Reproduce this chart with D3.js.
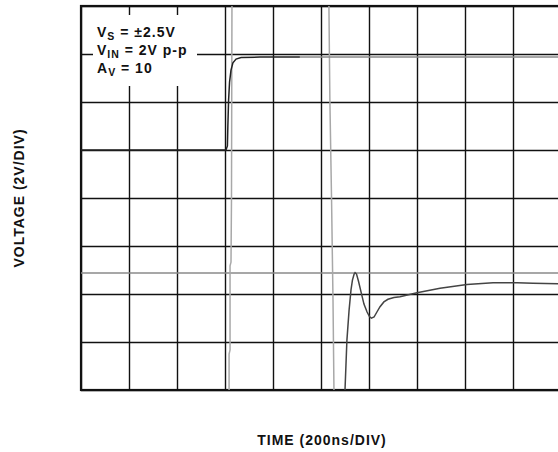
<!DOCTYPE html>
<html>
<head>
<meta charset="utf-8">
<script src="https://cdn.jsdelivr.net/npm/d3@7"></script>
<style>
  body { margin: 0; background: #fff; }
  svg { display: block; font-family: "Liberation Sans", Arial, sans-serif; font-weight: bold; }
  .grid line { stroke: #111; stroke-width: 1.4; }
  .grid .domain { display: none; }
</style>
</head>
<body>
<svg id="chart" width="558" height="452"></svg>
<script>
// time in ns (200ns/div), voltage in V (2V/div)
var timeTicks = [0, 200, 400, 600, 800, 1000, 1200, 1400, 1600, 1800, 2000]
var voltTicks = [-8, -6, -4, -2, 0, 2, 4, 6, 8]

// input step (dark part, then faint tail)
var inputTrace = [
  [0, 2.0], [604, 2.0], [610, 2.17], [612, 3.04], [615, 4.08], [619, 4.83],
  [625, 5.33], [633, 5.63], [646, 5.79], [667, 5.85], [746, 5.875], [912, 5.875]
]
var inputTail = [[912, 5.875], [2000, 5.875]]

// output: fast edges (faint) and the ringing/settling part
var outputEdge1 = [
  [629, 8.0], [627, -0.08], [625, -2.67], [621, -2.83], [621, -6.33], [617, -6.5], [617, -8.0]
]
var outputEdge2 = [
  [1033, 8.0], [1037, 4.08], [1044, -0.08], [1050, -4.25], [1054, -8.0]
]
var outputSettle = [
  [1100, -8.0], [1108, -5.92], [1117, -4.67], [1125, -3.83], [1131, -3.42], [1138, -3.17],
  [1142, -3.11], [1148, -3.17], [1156, -3.46], [1167, -3.92], [1179, -4.42], [1192, -4.75],
  [1202, -4.94], [1210, -5.01], [1221, -4.96], [1233, -4.75], [1246, -4.53], [1262, -4.33],
  [1279, -4.22], [1304, -4.15], [1329, -4.11], [1400, -3.95], [1496, -3.76], [1608, -3.6],
  [1717, -3.53], [1817, -3.53], [1883, -3.55], [2000, -3.58]
]
var refLevel = -3.125

var margin = { top: 6, left: 81 }
var width = 480, height = 384

var svg = d3.select("#chart")

var x = d3.scaleLinear().domain([0, 2000]).range([margin.left, margin.left + width])
var y = d3.scaleLinear().domain([-8, 8]).range([margin.top + height, margin.top])

svg.append("g")
    .attr("class", "grid")
    .attr("transform", "translate(0," + (margin.top + height) + ")")
    .call(d3.axisBottom(x).tickValues(timeTicks).tickSize(-height).tickFormat(""))

svg.append("g")
    .attr("class", "grid")
    .attr("transform", "translate(" + margin.left + ",0)")
    .call(d3.axisLeft(y).tickValues(voltTicks).tickSize(-width).tickFormat(""))

// heavier frame
svg.append("rect")
    .attr("x", x(0)).attr("y", y(8))
    .attr("width", x(2000) - x(0)).attr("height", y(-8) - y(8))
    .attr("fill", "none").attr("stroke", "#111").attr("stroke-width", 2.2)

var line = d3.line().x(d => x(d[0])).y(d => y(d[1]))

svg.append("line")
    .attr("x1", x(0)).attr("x2", x(2000))
    .attr("y1", y(refLevel)).attr("y2", y(refLevel))
    .attr("stroke", "#8a8a8a").attr("stroke-width", 1.6)

function trace(data, color, w) {
    svg.append("path")
        .datum(data)
        .attr("d", line)
        .attr("fill", "none")
        .attr("stroke", color)
        .attr("stroke-width", w)
}

trace(outputEdge1, "#a8a8a8", 1.5)
trace(outputEdge2, "#a8a8a8", 1.5)
trace(outputSettle, "#444", 1.5)
trace(inputTail, "#8a8a8a", 1.6)
trace(inputTrace, "#222", 1.5)

// annotation box
svg.append("rect")
    .attr("x", 93).attr("y", 15).attr("width", 104).attr("height", 71)
    .attr("fill", "#fff")

var notes = [["V", "S", " = \u00b12.5V"], ["V", "IN", " = 2V p-p"], ["A", "V", " = 10"]]
notes.forEach(function (n, i) {
    var t = svg.append("text")
        .attr("x", 97).attr("y", 37 + i * 18)
        .attr("font-size", 14).attr("letter-spacing", 1).attr("fill", "#111")
    t.append("tspan").text(n[0])
    t.append("tspan").attr("font-size", 10.5).attr("dy", 3).text(n[1])
    t.append("tspan").attr("dy", -3).text(n[2])
})

svg.append("text")
    .attr("x", 322).attr("y", 445)
    .attr("text-anchor", "middle")
    .attr("font-size", 14).attr("letter-spacing", 1).attr("fill", "#111")
    .text("TIME (200ns/DIV)")

svg.append("text")
    .attr("transform", "translate(24,198) rotate(-90)")
    .attr("text-anchor", "middle")
    .attr("font-size", 14).attr("letter-spacing", 1).attr("fill", "#111")
    .text("VOLTAGE (2V/DIV)")
</script>
</body>
</html>
